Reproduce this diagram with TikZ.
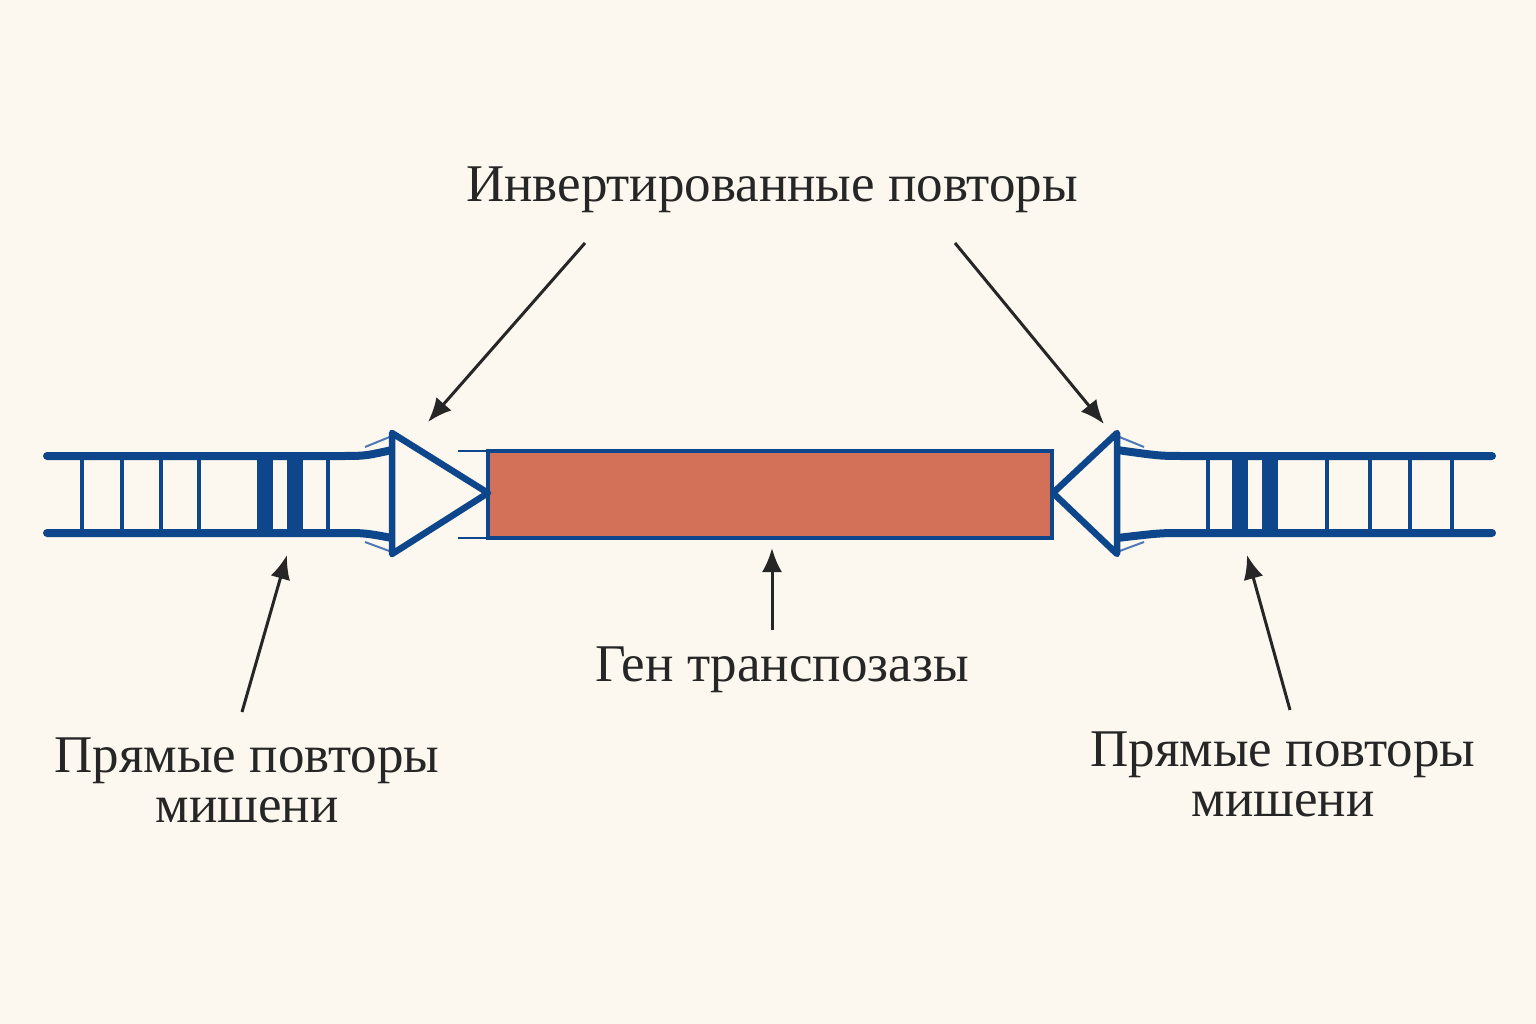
\documentclass[tikz,border=0pt]{standalone}
\usepackage{fontspec}
\setmainfont{Liberation Serif}
\usetikzlibrary{arrows.meta}
\definecolor{bg}{RGB}{252,248,239}
\definecolor{dnab}{RGB}{14,70,140}
\definecolor{dnal}{RGB}{80,120,180}
\definecolor{gen}{RGB}{211,113,88}
\definecolor{ink}{RGB}{38,38,38}
\begin{document}
\begin{tikzpicture}[x=1pt,y=-1pt,
  dna/.style={draw=dnab, line width=8pt, line cap=round},
  rung/.style={draw=dnab, line width=4pt},
  thick rung/.style={draw=dnab, line width=16pt},
  tri/.style={draw=dnab, fill=bg, line width=6.5pt, line join=round},
  arr/.style={-{Latex[length=24pt,width=20pt]}, line width=3pt, draw=ink, fill=ink},
  lbl/.style={font=\fontsize{53}{50}\selectfont, text=ink, align=center}]
\fill[bg] (0,0) rectangle (1536,1024);
\useasboundingbox (0,0) rectangle (1536,1024);
% left DNA
\foreach \x in {82,122,161,199,328} \draw[rung] (\x,456) -- (\x,533);
\foreach \x in {265,295} \draw[thick rung] (\x,456) -- (\x,533);
\draw[dna] (47,456) -- (340,456) .. controls (365,456) .. (392,450);
\draw[dna] (47,533) -- (340,533) .. controls (365,533) .. (392,538);
\draw[line width=2pt,dnal] (365,447) -- (392,436) (365,542) -- (392,552);
% right DNA
\foreach \x in {1208,1327,1370,1410,1452} \draw[rung] (\x,456) -- (\x,533);
\foreach \x in {1240,1270} \draw[thick rung] (\x,456) -- (\x,533);
\draw[dna] (1492,456) -- (1185,456) .. controls (1160,456) .. (1117,450);
\draw[dna] (1492,533) -- (1185,533) .. controls (1160,533) .. (1117,538);
\draw[line width=2pt,dnal] (1144,447) -- (1117,436) (1144,542) -- (1117,552);
% gene
\draw[line width=2pt,dnab] (458,451) -- (488,451) (458,538) -- (488,538);
\node[draw=dnab, line width=3.5pt, fill=gen, minimum width=564pt, minimum height=87pt, inner sep=0pt] (gene) at (770,494.5) {};
\draw[tri] (392,433) -- (488,493) -- (392,554) -- cycle;
\draw[tri] (1117,433) -- (1053,493) -- (1117,554) -- cycle;
\coordinate (itl) at (428,422); \coordinate (itr) at (1104,424);
\coordinate (dl) at (287,555); \coordinate (dr) at (1247,555);
% labels
\node[lbl] (inv) at (772,190) {Инвертированные повторы};
\node[lbl] (gn) at (782,670) {Ген транспозазы};
\node[lbl] (pl) at (247,780) {Прямые повторы\\мишени};
\node[lbl] (pr) at (1283,774) {Прямые повторы\\мишени};
\draw[arr] (585,243) -- (itl);
\draw[arr] (955,243) -- (itr);
\draw[arr] (242,712) -- (dl);
\draw[arr] (772,630) -- (772,548);
\draw[arr] (1290,710) -- (dr);
\end{tikzpicture}
\end{document}
